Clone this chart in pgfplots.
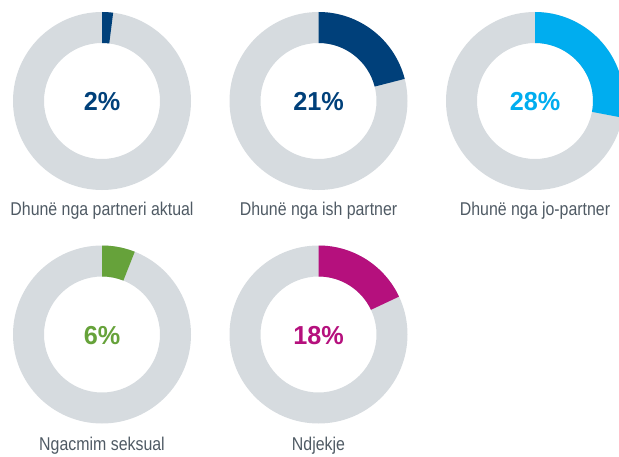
\documentclass[border=0pt]{standalone}
\usepackage{pgfplots}
\pgfplotsset{compat=1.18}
\usepackage{fontspec}
\setmainfont{Liberation Sans}[FakeStretch=0.86]
\newfontfamily\pctfont{Liberation Sans}[FakeStretch=0.97]
\definecolor{ring}{HTML}{D6DBDF}
\definecolor{navy}{HTML}{00407A}
\definecolor{cyan}{HTML}{00ADEF}
\definecolor{green}{HTML}{66A23A}
\definecolor{magenta}{HTML}{B5107D}
\definecolor{labelgray}{HTML}{4F5A64}
\newcommand{\donut}[6]{%
\begin{axis}[at={(#1pt,#2pt)},anchor=center,hide axis,scale only axis,
  width=178pt,height=178pt,xmin=-1,xmax=1,ymin=-1,ymax=1,clip=false]
\coordinate (c) at (axis cs:0,0);
\fill[ring,even odd rule] (c) circle[radius=89pt] (c) circle[radius=58pt];
\fill[#4] ([shift={(90:89pt)}]c) arc[start angle=90,end angle={90-3.6*#3},radius=89pt]
  -- ([shift={({90-3.6*#3}:58pt)}]c) arc[start angle={90-3.6*#3},end angle=90,radius=58pt] -- cycle;
\node[text=#4,font=\pctfont\bfseries\fontsize{26}{30}\selectfont] at ([yshift=-1pt]c) {#3\%};
\node[text=labelgray,font=\fontsize{18.5}{21}\selectfont] at ([yshift=#6pt]c) {#5};
\end{axis}}
\begin{document}
\begin{tikzpicture}[x=1pt,y=1pt]
\useasboundingbox (0,0) rectangle (619,456);
\clip (0,0) rectangle (619,456);
\donut{102}{355}{2}{navy}{Dhunë nga partneri aktual}{-110}
\donut{318.5}{355}{21}{navy}{Dhunë nga ish partner}{-110}
\donut{535}{355}{28}{cyan}{Dhunë nga jo-partner}{-110}
\donut{102}{121.5}{6}{green}{Ngacmim seksual}{-111.5}
\donut{318.5}{121.5}{18}{magenta}{Ndjekje}{-111.5}
\end{tikzpicture}
\end{document}
